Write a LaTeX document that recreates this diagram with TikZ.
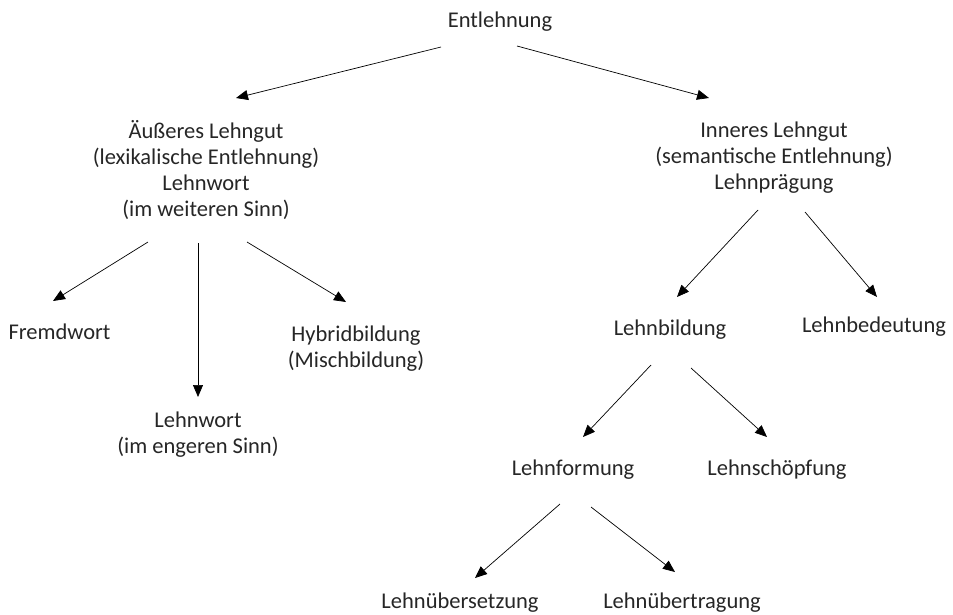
\documentclass[tikz,border=0pt]{standalone}
\usepackage{fontspec}
\setmainfont{Carlito}
\usepackage{tikz}
\usetikzlibrary{arrows.meta,positioning}
\definecolor{txtgray}{RGB}{38,38,38}
\tikzset{
  term/.style={font=\fontsize{22.5}{26}\selectfont, text=txtgray, align=center, inner sep=0pt},
  word/.style={term, anchor=base},
  arr/.style={-{Triangle[length=12pt,width=10pt]}, line width=0.7pt, black},
}
\begin{document}
\begin{tikzpicture}[x=1pt, y=-1pt]
  \useasboundingbox (0,0) rectangle (953,614);

  % top
  \node[word] (ent) at (500,27) {Entlehnung};

  % first level
  \node[term] (lgut) at (206,170) {Äußeres Lehngut\\(lexikalische Entlehnung)\\Lehnwort\\(im weiteren Sinn)};
  \node[term] (rgut) at (774,158) {Inneres Lehngut\\(semantische Entlehnung)\\Lehnprägung};

  % left branch
  \node[word] (fremd) at (59.5,339) {Fremdwort};
  \node[term] (lwort) at (198,435) {Lehnwort\\(im engeren Sinn)};
  \node[term] (hybrid) at (356,349) {Hybridbildung\\(Mischbildung)};

  % right branch
  \node[word] (lbild) at (670,335) {Lehnbildung};
  \node[word] (lbed) at (874,332) {Lehnbedeutung};
  \node[word] (lform) at (573,475) {Lehnformung};
  \node[word] (lschoepf) at (777,475) {Lehnschöpfung};
  \node[word] (luebers) at (460,608) {Lehnübersetzung};
  \node[word] (luebert) at (682,608) {Lehnübertragung};

  % connectors
  \draw[arr] ([shift={(-59,20)}]ent.base) -- ([shift={(30,-72)}]lgut.center);
  \draw[arr] ([shift={(17,19)}]ent.base) -- ([shift={(-65,-60)}]rgut.center);

  \draw[arr] ([shift={(-58,72)}]lgut.center) -- ([shift={(-6.5,-38)}]fremd.base);
  \draw[arr] ([shift={(-8,73)}]lgut.center) -- ([shift={(0,-38)}]lwort.center);
  \draw[arr] ([shift={(41,72)}]lgut.center) -- ([shift={(-10,-47)}]hybrid.center);

  \draw[arr] ([shift={(-16,52)}]rgut.center) -- ([shift={(7,-38)}]lbild.base);
  \draw[arr] ([shift={(31,54)}]rgut.center) -- ([shift={(3,-35)}]lbed.base);

  \draw[arr] ([shift={(-19,30)}]lbild.base) -- ([shift={(10,-38)}]lform.base);
  \draw[arr] ([shift={(21,33)}]lbild.base) -- ([shift={(-10,-38)}]lschoepf.base);

  \draw[arr] ([shift={(-13,29)}]lform.base) -- ([shift={(15,-30)}]luebers.base);
  \draw[arr] ([shift={(18,32)}]lform.base) -- ([shift={(-7,-36)}]luebert.base);

\end{tikzpicture}
\end{document}
